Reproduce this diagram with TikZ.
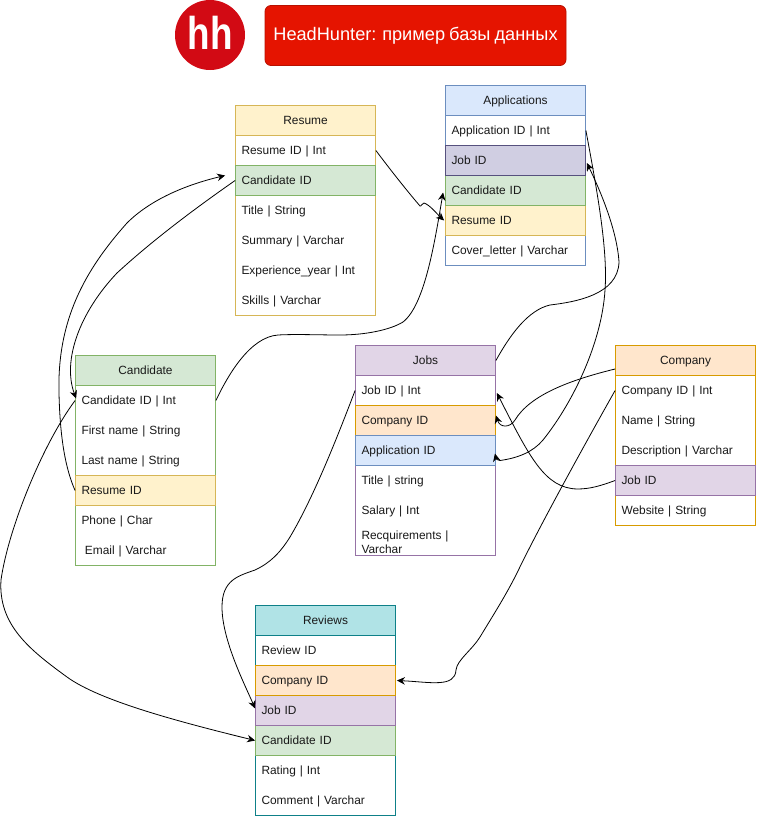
\documentclass[tikz,border=0pt]{standalone}
\usepackage{fontspec}
\setmainfont[WordSpace=0.8]{Liberation Sans}
\usetikzlibrary{arrows.meta}
\definecolor{yelF}{HTML}{FFF2CC}\definecolor{yelD}{HTML}{D6B656}
\definecolor{grnF}{HTML}{D5E8D4}\definecolor{grnD}{HTML}{82B366}
\definecolor{bluF}{HTML}{DAE8FC}\definecolor{bluD}{HTML}{6C8EBF}
\definecolor{purF}{HTML}{E1D5E7}\definecolor{purD}{HTML}{9673A6}
\definecolor{orgF}{HTML}{FFE6CC}\definecolor{orgD}{HTML}{D79B00}
\definecolor{teaF}{HTML}{B0E3E6}\definecolor{teaD}{HTML}{0E8088}
\definecolor{lilF}{HTML}{D0CEE2}\definecolor{lilD}{HTML}{56517E}
\definecolor{redF}{HTML}{E51400}\definecolor{redD}{HTML}{B81100}
\definecolor{logoF}{HTML}{D20A14}
\tikzset{
  cellbox/.style={draw=#1, line width=0.8pt, minimum width=140pt, minimum height=30pt, inner sep=0pt, font=\fontsize{11.9}{14}\selectfont, text=black!90},
  headcell/.style 2 args={cellbox=#2, fill=#1, align=center, text height=9.4pt, text depth=2.2pt},
  rowcell/.style 2 args={cellbox=#2, fill=#1, text width=128pt, align=left, text height=9.4pt, text depth=2.2pt},
  tablebox/.style={draw=#1, fill=white, line width=0.8pt, minimum width=140pt, inner sep=0pt},
  link/.style={draw=black, line width=0.8pt, -{Stealth[length=8pt,width=7.5pt]}},
}
\begin{document}
\begin{tikzpicture}[x=1pt,y=-1pt]
\useasboundingbox (0,0) rectangle (757,816);
\fill[white] (0,0) rectangle (757,816);
% logo and title
\node[circle, fill=logoF, minimum size=70pt, inner sep=0pt] (logo) at (210,35) {};
\node[text=white, font=\fontsize{46}{46}\bfseries\selectfont, xscale=0.8] (logotext) at (210,33) {hh};
\node[draw=redD, fill=redF, line width=0.8pt, rounded corners=6pt, minimum width=301pt, minimum height=60pt, inner sep=0pt, text=white, font=\fontsize{18.2}{20}\selectfont, text height=13pt, text depth=3pt] (title) at (415.5,35.5) {HeadHunter: пример базы данных};
% Resume
\node[tablebox=yelD, minimum height=210pt] (resbox) at (305.5,210.5) {};
\node[headcell={yelF}{yelD}] (res0) at (305.5,120.5) {Resume};
\node[rowcell={none}{none}] (res1) at (305.5,150.5) {Resume ID | Int};
\node[rowcell={none}{none}] (res3) at (305.5,210.5) {Title | String};
\node[rowcell={none}{none}] (res4) at (305.5,240.5) {Summary | Varchar};
\node[rowcell={none}{none}] (res5) at (305.5,270.5) {Experience\_year | Int};
\node[rowcell={none}{none}] (res6) at (305.5,300.5) {Skills | Varchar};
\node[rowcell={grnF}{grnD}] (res2) at (305.5,180.5) {Candidate ID};
% Applications
\node[tablebox=bluD, minimum height=180pt] (appbox) at (515.5,175.5) {};
\node[headcell={bluF}{bluD}] (app0) at (515.5,100.5) {Applications};
\node[rowcell={none}{none}] (app1) at (515.5,130.5) {Application ID | Int};
\node[rowcell={none}{none}] (app5) at (515.5,250.5) {Cover\_letter | Varchar};
\node[rowcell={yelF}{yelD}] (app4) at (515.5,220.5) {Resume ID};
\node[rowcell={grnF}{grnD}] (app3) at (515.5,190.5) {Candidate ID};
\node[rowcell={lilF}{lilD}] (app2) at (515.5,160.5) {Job ID};
% Candidate
\node[tablebox=grnD, minimum height=210pt] (canbox) at (145.5,460.5) {};
\node[headcell={grnF}{grnD}] (can0) at (145.5,370.5) {Candidate};
\node[rowcell={none}{none}] (can1) at (145.5,400.5) {Candidate ID | Int};
\node[rowcell={none}{none}] (can2) at (145.5,430.5) {First name | String};
\node[rowcell={none}{none}] (can3) at (145.5,460.5) {Last name | String};
\node[rowcell={none}{none}] (can5) at (145.5,520.5) {Phone | Char};
\node[rowcell={none}{none}] (can6) at (145.5,550.5) {\hspace*{3.4pt}Email | Varchar};
\node[rowcell={yelF}{yelD}] (can4) at (145.5,490.5) {Resume ID};
% Jobs
\node[tablebox=purD, minimum height=210pt] (jobbox) at (425.5,450.5) {};
\node[headcell={purF}{purD}] (job0) at (425.5,360.5) {Jobs};
\node[rowcell={none}{none}] (job1) at (425.5,390.5) {Job ID | Int};
\node[rowcell={none}{none}] (job4) at (425.5,480.5) {Title | string};
\node[rowcell={none}{none}] (job5) at (425.5,510.5) {Salary | Int};
\node[font=\fontsize{11.9}{14}\selectfont, text=black!90, inner sep=0pt, text width=128pt, align=left] (job6) at (425.5,542) {Recquirements |\\Varchar};
\node[rowcell={orgF}{orgD}] (job2) at (425.5,420.5) {Company ID};
\node[rowcell={bluF}{bluD}] (job3) at (425.5,450.5) {Application ID};
% Company
\node[tablebox=orgD, minimum height=180pt] (combox) at (685.5,435.5) {};
\node[headcell={orgF}{orgD}] (com0) at (685.5,360.5) {Company};
\node[rowcell={none}{none}] (com1) at (685.5,390.5) {Company ID | Int};
\node[rowcell={none}{none}] (com2) at (685.5,420.5) {Name | String};
\node[rowcell={none}{none}] (com3) at (685.5,450.5) {Description | Varchar};
\node[rowcell={none}{none}] (com5) at (685.5,510.5) {Website | String};
\node[rowcell={purF}{purD}] (com4) at (685.5,480.5) {Job ID};
% Reviews
\node[tablebox=teaD, minimum height=210pt] (revbox) at (325.5,710.5) {};
\node[headcell={teaF}{teaD}] (rev0) at (325.5,620.5) {Reviews};
\node[rowcell={none}{none}] (rev1) at (325.5,650.5) {Review ID};
\node[rowcell={none}{none}] (rev5) at (325.5,770.5) {Rating | Int};
\node[rowcell={none}{none}] (rev6) at (325.5,800.5) {Comment | Varchar};
\node[rowcell={grnF}{grnD}] (rev4) at (325.5,740.5) {Candidate ID};
\node[rowcell={purF}{purD}] (rev3) at (325.5,710.5) {Job ID};
\node[rowcell={orgF}{orgD}] (rev2) at (325.5,680.5) {Company ID};
% Connectors
\draw[link] (res1.east) .. controls (392,172) and (408,192) .. (420,206) .. controls (421,207) and (422,203) .. (424,203) .. controls (430,205) and (437,214) .. ([xshift=-1pt]app4.west);
\draw[link] (can1.east) .. controls (228,375) and (250,337) .. (278,335) .. controls (295,334) and (320,335) .. (340,335) .. controls (365,335) and (390,330) .. (403,322) .. controls (425,305) and (435,240) .. ([shift={(-2,2)}]app3.west);
\draw[link] (res2.west) .. controls (200,205) and (155,238) .. (117,273) .. controls (80,312) and (62,360) .. ([shift={(1,-2)}]can1.west);
\draw[link] (can4.west) .. controls (66,470) and (60,440) .. (59,393) .. controls (57,320) and (85,270) .. (127,223) .. controls (150,200) and (185,185) .. ([shift={(-10,-5)}]res2.west);
\draw[link] (can1.west) .. controls (42,445) and (8,530) .. (1,580) .. controls (-2,625) and (30,650) .. (67,677) .. controls (100,701) and (180,722) .. (rev4.west);
\draw[link] (job0.east) .. controls (510,335) and (528,310) .. (550,305) .. controls (575,302) and (618,295) .. (619,262) .. controls (617,230) and (600,190) .. ([shift={(1,2.5)}]app2.east);
\draw[link] (app1.east) .. controls (597,190) and (608,250) .. (605,290) .. controls (602,340) and (575,400) .. (543,440) .. controls (533,452) and (518,458) .. (500,460.5) .. controls (497,461) and (496,458) .. ([shift={(-1,3)}]job3.east);
\draw[link] ([yshift=-8.5pt]com0.west) .. controls (570,380) and (530,395) .. (515,420) .. controls (510,428) and (500,428) .. ([shift={(0,-5)}]job2.east);
\draw[link] (com4.west) .. controls (600,486) and (590,489) .. (577,489) .. controls (545,488) and (530,458) .. ([shift={(1,2.5)}]job1.east);
\draw[link] (com1.west) .. controls (590,435) and (540,525) .. (517,573) .. controls (505,597) and (492,617) .. (480,637) .. controls (472,650) and (457,660) .. (456,670) .. controls (455,688) and (430,682) .. ([xshift=1pt]rev2.east);
\draw[link] (job1.west) .. controls (340,430) and (315,495) .. (290,537) .. controls (280,553) and (270,563) .. (255,570) .. controls (238,576) and (222,580) .. (222,607) .. controls (222,640) and (245,685) .. ([shift={(0,-2)}]rev3.west);
\end{tikzpicture}
\end{document}
